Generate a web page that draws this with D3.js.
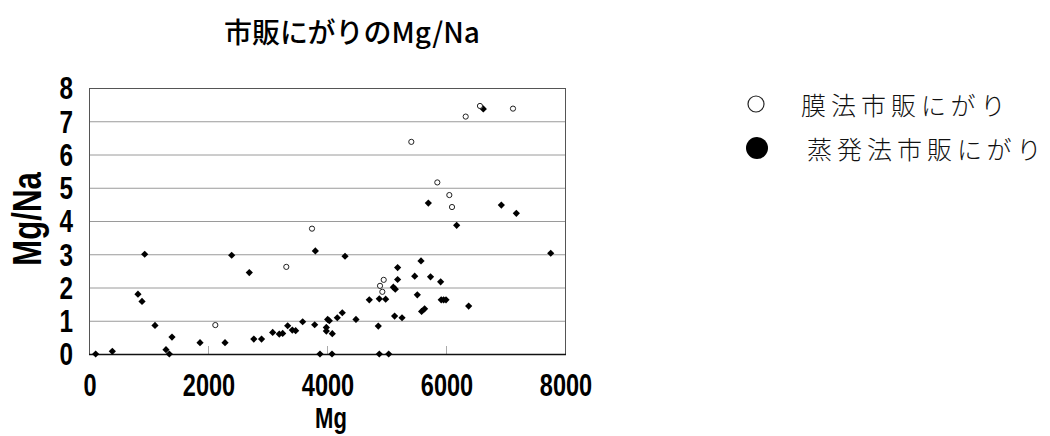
<!DOCTYPE html>
<html>
<head>
    <meta charset="utf-8">
    <title>市販にがりのMg/Na</title>
    <style>
        body { margin: 0; background: #fff; }
        .grid line { stroke: #9a9a9a; stroke-width: 1px; }
        .tick-label { font-family: 'Liberation Sans', Arial, sans-serif; font-weight: bold; fill: #000; }
        .legend text { font-family: 'Noto Sans CJK JP', sans-serif; font-weight: 300; fill: #111; }
    </style>
</head>
<body>
    <script src="https://cdnjs.cloudflare.com/ajax/libs/d3/7.8.5/d3.min.js"></script>
    <script>

        // 蒸発法市販にがり (Mg, Mg/Na)
        var evapMg = [112, 392, 823, 891, 936, 1109, 1294, 1350, 1395, 1866, 2286, 2398, 2694, 2770, 2900,
            3087, 3198, 3255, 3339, 3417, 3473, 3591, 3793, 3804, 3882, 3989, 3989, 4011, 4039, 4089, 4084,
            4173, 4257, 4303, 4487, 4711, 4862, 4879, 4879, 4986, 5037, 5115, 5148, 5136, 5187, 5187, 5261,
            5474, 5518, 5580, 5590, 5640, 5703, 5740, 5910, 5920, 5960, 6000, 6179, 6381, 6627, 6930, 7182, 7760];
        var evapRatio = [0.0, 0.08, 1.8, 1.58, 3.0, 0.86, 0.13, 0.0, 0.51, 0.34, 0.34, 2.97, 2.45, 0.45, 0.45,
            0.65, 0.6, 0.62, 0.85, 0.72, 0.70, 0.97, 0.88, 3.1, 0.0, 0.8, 0.69, 1.04, 1.0, 0.61, 0.0,
            1.09, 1.24, 2.94, 1.04, 1.63, 0.84, 1.66, 0.0, 1.65, 0.0, 2.01, 1.95, 1.14, 2.6, 2.24, 1.09,
            2.34, 1.78, 2.8, 1.28, 1.36, 4.54, 2.32, 2.17, 1.63, 1.63, 1.63, 3.87, 1.44, 7.37, 4.48, 4.23, 3.03];

        // 膜法市販にがり
        var membMg = [2123, 3316, 3748, 4891, 4953, 4930, 5417, 5854, 6056, 6101, 6331, 6571, 7126];
        var membRatio = [0.87, 2.62, 3.77, 2.05, 2.23, 1.87, 6.38, 5.16, 4.78, 4.42, 7.14, 7.46, 7.38];

        var xTicks = [0, 2000, 4000, 6000, 8000];
        var yTicks = [0, 1, 2, 3, 4, 5, 6, 7, 8];
        var legendLabels = ["膜法市販にがり", "蒸発法市販にがり"];

        var width = 1050,
            height = 436;

        var svg = d3.select("body").append("svg")
            .attr("width", width)
            .attr("height", height);

        var x = d3.scaleLinear().domain([0, 8000]).range([89, 565]);
        var y = d3.scaleLinear().domain([0, 8]).range([354, 88]);

        // narrow bold look (no narrow font installed)
        var narrow = 0.76;

        // title
        svg.append("text")
            .attr("x", 352)
            .attr("y", 31)
            .attr("text-anchor", "middle")
            .attr("dominant-baseline", "central")
            .style("font-family", "'Noto Sans CJK JP', sans-serif")
            .style("font-weight", "500")
            .style("font-size", "28px")
            .text("市販にがりのMg/Na");

        // grid lines
        svg.append("g")
            .attr("class", "grid")
            .selectAll("line")
            .data(yTicks.slice(1, -1))
            .enter()
            .append("line")
            .attr("x1", x(0))
            .attr("x2", x(8000))
            .attr("y1", function (d) { return y(d) + 0.5; })
            .attr("y2", function (d) { return y(d) + 0.5; });

        // small ticks on bottom
        svg.append("g")
            .selectAll("line")
            .data(xTicks.slice(1, -1))
            .enter()
            .append("line")
            .attr("x1", function (d) { return x(d) + 0.5; })
            .attr("x2", function (d) { return x(d) + 0.5; })
            .attr("y1", y(0) - 8)
            .attr("y2", y(0))
            .style("stroke", "#aaa")
            .style("stroke-width", "1px");

        // frame
        svg.append("rect")
            .attr("x", x(0) + 0.5)
            .attr("y", y(8) + 0.5)
            .attr("width", x(8000) - x(0))
            .attr("height", y(0) - y(8))
            .style("fill", "none")
            .style("stroke", "#555")
            .style("stroke-width", "1px");

        svg.append("line")
            .attr("x1", x(0))
            .attr("x2", x(8000) + 1)
            .attr("y1", y(0) + 0.5)
            .attr("y2", y(0) + 0.5)
            .style("stroke", "#111")
            .style("stroke-width", "1.6px");

        // axis labels
        svg.append("g")
            .selectAll("text")
            .data(yTicks)
            .enter()
            .append("text")
            .attr("class", "tick-label")
            .attr("transform", function (d) {
                return "translate(73," + y(d) + ") scale(" + narrow + ",1)";
            })
            .attr("text-anchor", "end")
            .attr("dominant-baseline", "central")
            .style("font-size", "32px")
            .text(function (d) { return d; });

        svg.append("g")
            .selectAll("text")
            .data(xTicks)
            .enter()
            .append("text")
            .attr("class", "tick-label")
            .attr("transform", function (d) {
                return "translate(" + (x(d) + 1) + ",385) scale(" + narrow + ",1)";
            })
            .attr("text-anchor", "middle")
            .attr("dominant-baseline", "central")
            .style("font-size", "31px")
            .text(function (d) { return d; });

        svg.append("text")
            .attr("class", "tick-label")
            .attr("transform", "translate(331,418) scale(" + narrow + ",1)")
            .attr("text-anchor", "middle")
            .attr("dominant-baseline", "central")
            .style("font-size", "29px")
            .text("Mg");

        svg.append("text")
            .attr("class", "tick-label")
            .attr("transform", "translate(27,219) rotate(-90) scale(" + narrow + ",1)")
            .attr("text-anchor", "middle")
            .attr("dominant-baseline", "central")
            .style("font-size", "41px")
            .text("Mg/Na");

        // points
        var evap = evapMg.map(function (m, i) { return { mg: m, r: evapRatio[i] }; });
        var memb = membMg.map(function (m, i) { return { mg: m, r: membRatio[i] }; });

        var diamond = d3.symbol().type(d3.symbolSquare).size(26);

        svg.append("g")
            .selectAll("path")
            .data(evap)
            .enter()
            .append("path")
            .attr("d", diamond)
            .attr("transform", function (d) {
                return "translate(" + x(d.mg) + "," + y(d.r) + ") rotate(45)";
            })
            .style("fill", "#000");

        svg.append("g")
            .selectAll("circle")
            .data(memb)
            .enter()
            .append("circle")
            .attr("cx", function (d) { return x(d.mg); })
            .attr("cy", function (d) { return y(d.r); })
            .attr("r", 2.6)
            .style("fill", "#fff")
            .style("stroke", "#222")
            .style("stroke-width", "1px");

        // legend
        var legend = svg.append("g").attr("class", "legend");
        var legendY = [104, 148];

        legend.append("circle")
            .attr("cx", 756)
            .attr("cy", legendY[0])
            .attr("r", 8)
            .style("fill", "none")
            .style("stroke", "#222")
            .style("stroke-width", "1.2px");

        legend.append("circle")
            .attr("cx", 757)
            .attr("cy", legendY[1])
            .attr("r", 11)
            .style("fill", "#000");

        legend.selectAll("text")
            .data(legendLabels)
            .enter()
            .append("text")
            .attr("x", function (d, i) { return i === 0 ? 801 : 807; })
            .attr("y", function (d, i) { return legendY[i]; })
            .attr("dominant-baseline", "central")
            .attr("letter-spacing", "5px")
            .style("font-size", "25px")
            .text(function (d) { return d; });

    </script>
</body>
</html>
